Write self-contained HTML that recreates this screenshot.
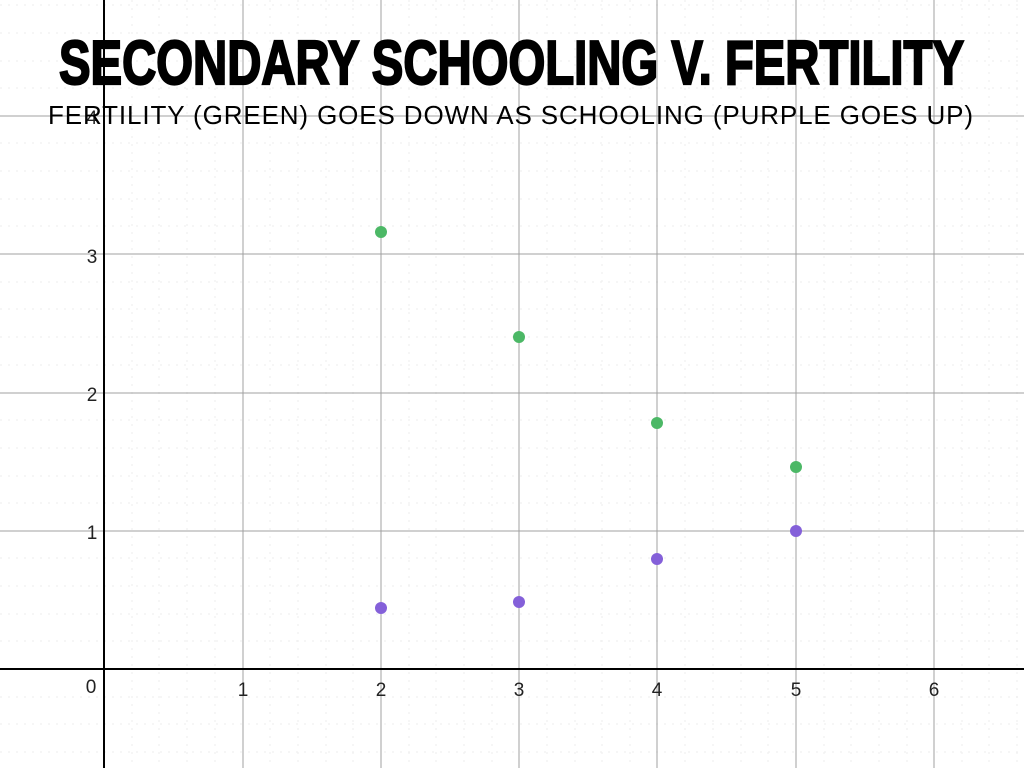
<!DOCTYPE html>
<html><head><style>html,body{margin:0;padding:0;background:#fff}svg{display:block}</style></head>
<body>
<svg width="1024" height="768" xmlns="http://www.w3.org/2000/svg" font-family="Liberation Sans, Arial, sans-serif">
<rect width="1024" height="768" fill="#fff"/>
<g stroke="#eeeeee" stroke-width="1" stroke-dasharray="2,6">
<path d="M132 0V768M159 0V768M187 0V768M215 0V768M270 0V768M298 0V768M326 0V768M353 0V768M409 0V768M436 0V768M464 0V768M492 0V768M547 0V768M575 0V768M602 0V768M630 0V768M685 0V768M713 0V768M741 0V768M768 0V768M824 0V768M851 0V768M879 0V768M907 0V768M962 0V768M989 0V768M1017 0V768"/>
<path d="M0 641H1024M0 614H1024M0 586H1024M0 558H1024M0 503H1024M0 476H1024M0 448H1024M0 420H1024M0 365H1024M0 337H1024M0 309H1024M0 282H1024M0 226H1024M0 199H1024M0 171H1024M0 143H1024M0 88H1024M0 61H1024M0 33H1024M0 5H1024M0 697H1024M0 724H1024M0 752H1024"/>
</g>
<g stroke="#a0a0a0" stroke-width="1">
<path d="M243 0V768M381 0V768M519 0V768M657 0V768M796 0V768M934 0V768"/>
<path d="M0 116H1024M0 254H1024M0 393H1024M0 531H1024"/>
</g>
<g stroke="#000" stroke-width="2"><path d="M104 0V768M0 669H1024"/></g>
<g font-size="19" fill="#222" text-anchor="middle">
<text x="243" y="696">1</text><text x="381" y="696">2</text><text x="519" y="696">3</text><text x="657" y="696">4</text><text x="796" y="696">5</text><text x="934" y="696">6</text>
<text x="91" y="693">0</text><text x="92" y="539">1</text><text x="92" y="401">2</text><text x="92" y="263">3</text><text x="92" y="124">4</text>
</g>
<g fill="#4cb866">
<circle cx="381" cy="232" r="6"/><circle cx="519" cy="337" r="6"/><circle cx="657" cy="423" r="6"/><circle cx="796" cy="467" r="6"/>
</g>
<g fill="#8460d9">
<circle cx="381" cy="608" r="6"/><circle cx="519" cy="602" r="6"/><circle cx="657" cy="559" r="6"/><circle cx="796" cy="531" r="6"/>
</g>
<text x="59" y="84" font-size="62" font-weight="bold" textLength="905" lengthAdjust="spacingAndGlyphs" fill="#000" stroke="#000" stroke-width="2.2">SECONDARY SCHOOLING V. FERTILITY</text>
<text x="48" y="124" font-size="26" textLength="925" lengthAdjust="spacing" fill="#000">FERTILITY (GREEN) GOES DOWN AS SCHOOLING (PURPLE GOES UP)</text>
</svg>
</body></html>
